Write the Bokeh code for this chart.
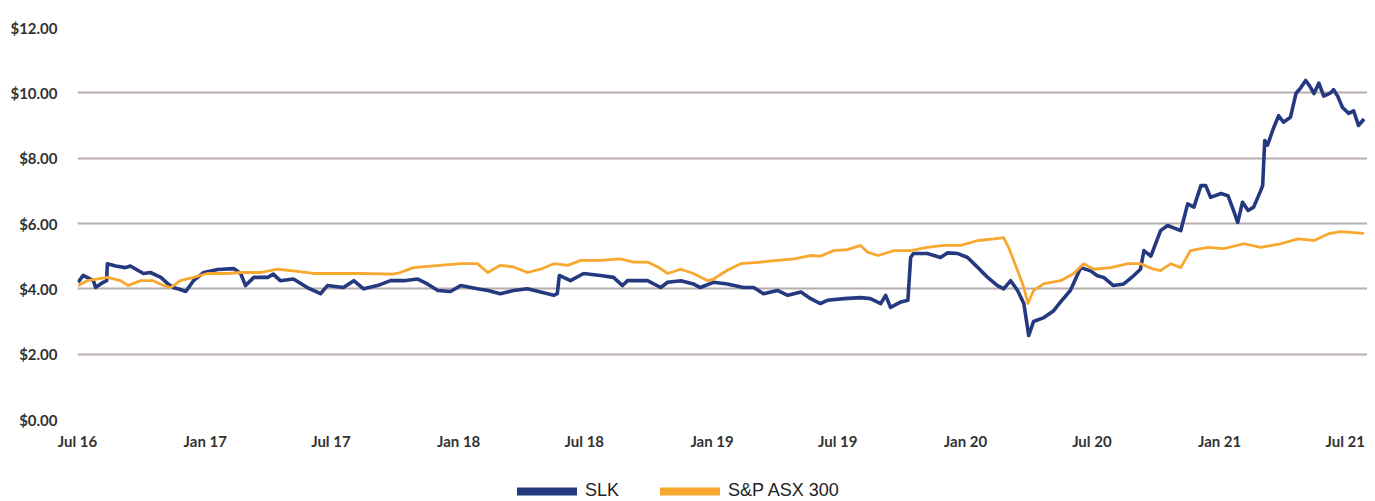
import pandas as pd
from bokeh.plotting import figure
from bokeh.layouts import column
from bokeh.models import (Legend, LegendItem, FixedTicker, DatetimeTickFormatter,
                          NumeralTickFormatter, Range1d)
from bokeh.embed import file_html
from bokeh.resources import INLINE

# ---------------- data ----------------
slk_dates = [
    "2016-07-02", "2016-07-09", "2016-07-24", "2016-07-27", "2016-08-07", "2016-08-12",
    "2016-08-13", "2016-08-25", "2016-09-08", "2016-09-15", "2016-10-04", "2016-10-14",
    "2016-10-29", "2016-11-08", "2016-11-16", "2016-11-26", "2016-12-04", "2016-12-15",
    "2016-12-30", "2017-01-19", "2017-02-11", "2017-02-21", "2017-02-28", "2017-03-12",
    "2017-04-01", "2017-04-09", "2017-04-19", "2017-05-08", "2017-05-28", "2017-06-16",
    "2017-06-26", "2017-07-19", "2017-08-03", "2017-08-17", "2017-09-06", "2017-09-25",
    "2017-10-14", "2017-11-03", "2017-11-17", "2017-12-02", "2017-12-20", "2018-01-04",
    "2018-01-28", "2018-02-12", "2018-03-02", "2018-03-21", "2018-04-10", "2018-04-29",
    "2018-05-18", "2018-05-23", "2018-05-26", "2018-06-11", "2018-06-30", "2018-07-24",
    "2018-08-12", "2018-08-25", "2018-09-01", "2018-09-30", "2018-10-19", "2018-10-29",
    "2018-11-17", "2018-12-05", "2018-12-15", "2019-01-03", "2019-01-23", "2019-02-15",
    "2019-03-02", "2019-03-16", "2019-04-05", "2019-04-20", "2019-05-09", "2019-05-23",
    "2019-06-06", "2019-06-16", "2019-07-10", "2019-08-03", "2019-08-17", "2019-09-01",
    "2019-09-08", "2019-09-15", "2019-09-30", "2019-10-10", "2019-10-14", "2019-10-18",
    "2019-11-07", "2019-11-26", "2019-12-06", "2019-12-21", "2020-01-04", "2020-01-19",
    "2020-02-02", "2020-02-16", "2020-02-25", "2020-03-06", "2020-03-16", "2020-03-25",
    "2020-03-31", "2020-04-01", "2020-04-08", "2020-04-23", "2020-05-07", "2020-05-17",
    "2020-05-31", "2020-06-15", "2020-06-29", "2020-07-09", "2020-07-18", "2020-08-01",
    "2020-08-16", "2020-08-30", "2020-09-09", "2020-09-14", "2020-09-24", "2020-10-08",
    "2020-10-18", "2020-11-06", "2020-11-16", "2020-11-25", "2020-12-05", "2020-12-12",
    "2020-12-19", "2021-01-03", "2021-01-13", "2021-01-21", "2021-01-27", "2021-02-03",
    "2021-02-11", "2021-02-19", "2021-03-01", "2021-03-04", "2021-03-07", "2021-03-11",
    "2021-03-20", "2021-03-27", "2021-04-03", "2021-04-13", "2021-04-21", "2021-04-28",
    "2021-05-05", "2021-05-11", "2021-05-17", "2021-05-24", "2021-05-31", "2021-06-10",
    "2021-06-14", "2021-06-20", "2021-06-27", "2021-07-06", "2021-07-13", "2021-07-20",
    "2021-07-28",
]
slk_values = [
    4.20, 4.41, 4.25, 4.04, 4.20, 4.25,
    4.77, 4.70, 4.65, 4.70, 4.47, 4.50,
    4.35, 4.16, 4.04, 3.98, 3.92, 4.25,
    4.50, 4.59, 4.62, 4.47, 4.10, 4.35,
    4.35, 4.45, 4.25, 4.30, 4.04, 3.85,
    4.10, 4.04, 4.25, 4.00, 4.10, 4.25,
    4.25, 4.30, 4.15, 3.95, 3.92, 4.10,
    4.00, 3.95, 3.85, 3.95, 4.00, 3.90,
    3.80, 3.85, 4.41, 4.25, 4.47, 4.41,
    4.35, 4.10, 4.25, 4.25, 4.04, 4.20,
    4.25, 4.15, 4.04, 4.20, 4.15, 4.04,
    4.04, 3.85, 3.95, 3.80, 3.90, 3.70,
    3.55, 3.65, 3.70, 3.73, 3.70, 3.55,
    3.80, 3.43, 3.60, 3.65, 4.96, 5.08,
    5.08, 4.96, 5.10, 5.08, 4.96, 4.65,
    4.35, 4.10, 4.00, 4.25, 3.95, 3.55,
    2.72, 2.57, 3.00, 3.12, 3.33, 3.60,
    3.95, 4.65, 4.55, 4.40, 4.35, 4.10,
    4.15, 4.40, 4.60, 5.17, 5.00, 5.78,
    5.94, 5.78, 6.60, 6.50, 7.16, 7.16,
    6.80, 6.92, 6.85, 6.40, 6.03, 6.65,
    6.40, 6.50, 7.00, 7.16, 8.54, 8.40,
    8.94, 9.30, 9.10, 9.25, 9.98, 10.16,
    10.38, 10.20, 9.98, 10.30, 9.90, 10.00,
    10.10, 9.90, 9.55, 9.37, 9.45, 9.00,
    9.20,
]

asx_dates = [
    "2016-07-02", "2016-07-15", "2016-08-13", "2016-09-01", "2016-09-12", "2016-09-30",
    "2016-10-18", "2016-11-02", "2016-11-12", "2016-11-26", "2016-12-15", "2017-01-04",
    "2017-02-02", "2017-02-21", "2017-03-22", "2017-04-15", "2017-05-08", "2017-06-06",
    "2017-07-05", "2017-08-13", "2017-09-29", "2017-10-09", "2017-10-28", "2017-11-26",
    "2018-01-04", "2018-01-28", "2018-02-12", "2018-03-02", "2018-03-21", "2018-04-10",
    "2018-04-29", "2018-05-18", "2018-06-07", "2018-06-26", "2018-07-24", "2018-08-22",
    "2018-09-10", "2018-09-30", "2018-10-15", "2018-10-29", "2018-11-17", "2018-12-05",
    "2018-12-26", "2019-01-03", "2019-01-23", "2019-02-11", "2019-03-12", "2019-04-05",
    "2019-04-29", "2019-05-23", "2019-06-06", "2019-06-25", "2019-07-15", "2019-08-03",
    "2019-08-13", "2019-08-28", "2019-09-20", "2019-10-14", "2019-11-07", "2019-12-01",
    "2019-12-25", "2020-01-19", "2020-02-11", "2020-02-25", "2020-03-03", "2020-03-16",
    "2020-03-25", "2020-03-31", "2020-04-08", "2020-04-23", "2020-05-17", "2020-06-05",
    "2020-06-19", "2020-07-04", "2020-07-28", "2020-08-22", "2020-09-09", "2020-09-28",
    "2020-10-08", "2020-10-23", "2020-11-06", "2020-11-20", "2020-12-15", "2021-01-07",
    "2021-02-05", "2021-03-01", "2021-03-30", "2021-04-24", "2021-05-17", "2021-06-06",
    "2021-06-24", "2021-07-13", "2021-07-28",
]
asx_values = [
    4.10, 4.25, 4.35, 4.25, 4.10, 4.25,
    4.25, 4.10, 4.04, 4.25, 4.35, 4.47,
    4.47, 4.50, 4.50, 4.60, 4.55, 4.47,
    4.47, 4.47, 4.45, 4.50, 4.65, 4.70,
    4.77, 4.77, 4.50, 4.72, 4.67, 4.50,
    4.60, 4.77, 4.72, 4.87, 4.87, 4.92,
    4.82, 4.82, 4.67, 4.47, 4.60, 4.47,
    4.25, 4.30, 4.57, 4.77, 4.82, 4.87,
    4.92, 5.02, 5.00, 5.17, 5.20, 5.33,
    5.12, 5.02, 5.17, 5.17, 5.27, 5.33,
    5.33, 5.48, 5.53, 5.57, 5.27, 4.56,
    4.04, 3.55, 3.95, 4.16, 4.25, 4.47,
    4.77, 4.60, 4.65, 4.77, 4.77, 4.60,
    4.56, 4.77, 4.65, 5.17, 5.27, 5.23,
    5.38, 5.27, 5.38, 5.53, 5.48, 5.68,
    5.75, 5.72, 5.70,
]

x_tick_dates = ["2016-07-01", "2017-01-01", "2017-07-01", "2018-01-01", "2018-07-01",
                "2019-01-01", "2019-07-01", "2020-01-01", "2020-07-01", "2021-01-01",
                "2021-07-01"]
y_ticks = [0, 2, 4, 6, 8, 10, 12]
series_names = ["SLK", "S&P ASX 300"]

BLUE = "#25397f"
ORANGE = "#f8a72f"
W = 1367


def to_ms(ds):
    return [pd.Timestamp(d).value // 10**6 for d in ds]


p = figure(width=W, height=452, x_axis_type="datetime",
           output_backend="svg", toolbar_location=None,
           x_range=Range1d(to_ms(["2016-07-01"])[0], to_ms(["2021-08-02"])[0]),
           y_range=Range1d(0, 12),
           min_border_left=77, min_border_right=0, min_border_top=27,
           min_border_bottom=33)
p.outline_line_color = None
p.background_fill_color = "white"
p.border_fill_color = "white"

p.xgrid.grid_line_color = None
p.ygrid.grid_line_color = "#b8aeac"
p.ygrid.grid_line_width = 2
p.ygrid.ticker = FixedTicker(ticks=y_ticks)

p.yaxis.ticker = FixedTicker(ticks=y_ticks)
p.yaxis.formatter = NumeralTickFormatter(format="$0.00")
p.xaxis.ticker = FixedTicker(ticks=to_ms(x_tick_dates))
fmt = "%b %y"
p.xaxis.formatter = DatetimeTickFormatter(milliseconds=fmt, seconds=fmt, minsec=fmt,
                                          minutes=fmt, hourmin=fmt, hours=fmt, days=fmt,
                                          months=fmt, years=fmt)
for ax in (p.xaxis[0], p.yaxis[0]):
    ax.axis_line_color = None
    ax.major_tick_line_color = None
    ax.minor_tick_line_color = None
    ax.major_label_text_font = "Lato"
    ax.major_label_text_font_style = "bold"
    ax.major_label_text_font_size = "15px"
    ax.major_label_text_color = "#333333"
p.yaxis.major_label_standoff = 14
p.xaxis.major_label_standoff = 6

p.line(x=to_ms(slk_dates), y=slk_values, line_color=BLUE, line_width=3.6,
       line_join="round")
p.line(x=to_ms(asx_dates), y=asx_values, line_color=ORANGE, line_width=2.8,
       line_join="round")

# legend strip below the chart: the same series, drawn out of view, provide swatches
q = figure(width=W, height=49, output_backend="svg", toolbar_location=None,
           x_range=Range1d(0, 1), y_range=Range1d(0, 1),
           x_axis_location=None, y_axis_location=None, min_border=0)
q.outline_line_color = None
q.grid.visible = False
l1 = q.line(x=to_ms(slk_dates), y=slk_values, line_color=BLUE, line_width=8,
            line_cap="round")
l2 = q.line(x=to_ms(asx_dates), y=asx_values, line_color=ORANGE, line_width=8,
            line_cap="round")
legend = Legend(items=[LegendItem(label=series_names[0], renderers=[l1]),
                       LegendItem(label=series_names[1], renderers=[l2])],
                orientation="horizontal", location=(440, 0),
                glyph_width=60, glyph_height=20, label_height=20,
                label_standoff=8, spacing=41, padding=0, margin=0,
                border_line_color=None, background_fill_alpha=0,
                label_text_font="Liberation Sans", label_text_font_size="18px",
                label_text_color="#222222")
q.add_layout(legend)

open("out.html", "w").write(file_html(column(p, q, spacing=0), INLINE))
